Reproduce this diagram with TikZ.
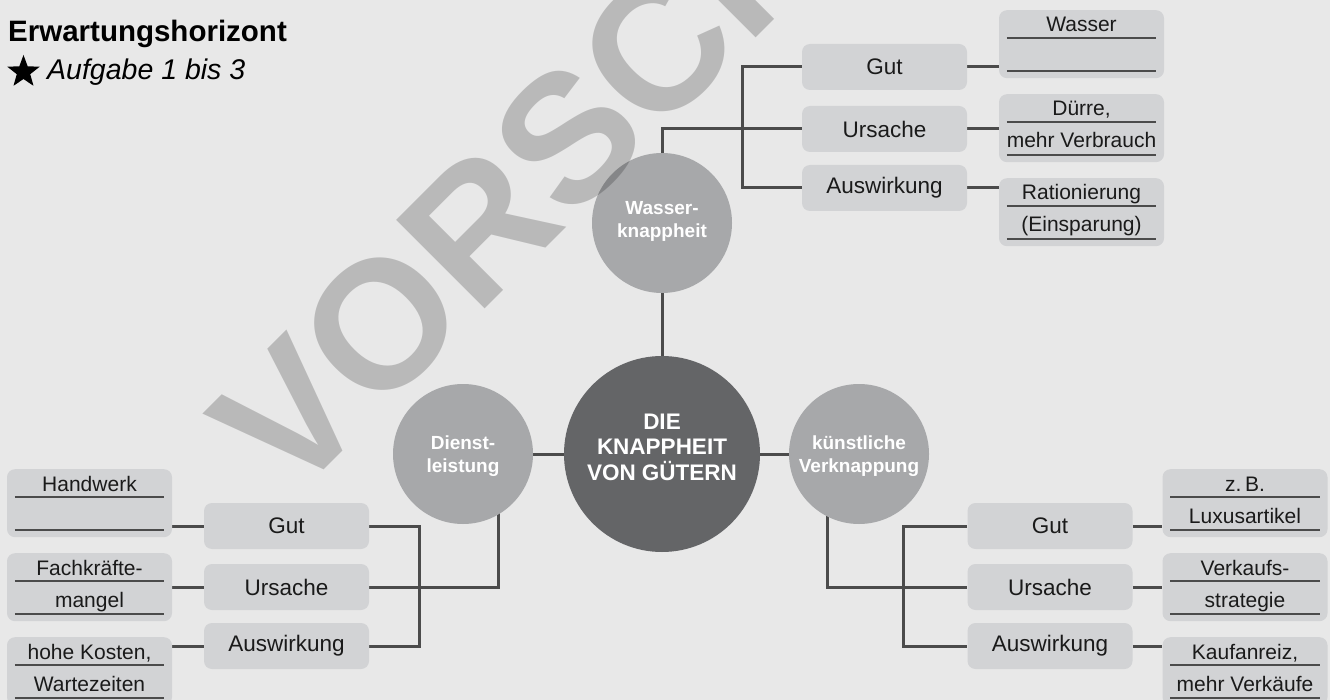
\documentclass[tikz,border=0pt]{standalone}
\usepackage{fontspec}
\setmainfont{Liberation Sans}
\usetikzlibrary{shapes.geometric,calc}
\pgfdeclarelayer{back}
\pgfsetlayers{back,main}
\definecolor{bgc}{HTML}{E8E8E8}
\definecolor{boxc}{HTML}{D2D3D5}
\definecolor{circc}{HTML}{A7A8AA}
\definecolor{darkc}{HTML}{646567}
\definecolor{linec}{HTML}{4B4B4B}
\definecolor{textc}{HTML}{1A1A1A}
\tikzset{
  conn/.style={line width=3pt, draw=linec},
  rulel/.style={line width=1.5pt, draw=linec},
  mbox/.style={fill=boxc, rounded corners=8pt, minimum width=165pt, minimum height=46pt, inner sep=0pt, text=textc, font=\fontsize{22.5}{26}\selectfont},
  abox/.style={fill=boxc, rounded corners=8pt, minimum width=165pt, minimum height=68pt, inner sep=0pt},
  atext/.style={inner sep=0pt, text=textc, font=\fontsize{21}{24}\selectfont},
  scirc/.style={circle, fill=circc, minimum size=140pt, inner sep=0pt},
  stext/.style={text=white, align=center, inner sep=0pt, font=\bfseries\fontsize{19}{23}\selectfont},
  ctext/.style={text=white, align=center, inner sep=0pt, font=\bfseries\fontsize{22.5}{25.5}\selectfont},
}
\newcommand\answerbox[5]{%
  \node[abox, anchor=north] (#1) at (#2,#3) {};
  \draw[rulel] ([xshift=8pt,yshift=-28pt]#1.north west) -- ([xshift=-8pt,yshift=-28pt]#1.north east);
  \draw[rulel] ([xshift=8pt,yshift=-61pt]#1.north west) -- ([xshift=-8pt,yshift=-61pt]#1.north east);
  \node[atext, anchor=base] (#1-a) at ([yshift=-22pt]#1.north) {#4};
  \node[atext, anchor=base] (#1-b) at ([yshift=-54pt]#1.north) {#5};
}
\begin{document}
\begin{tikzpicture}[x=1pt,y=-1pt]
\useasboundingbox (0,0) rectangle (1330,700);

% title
\node[anchor=base west, inner sep=0pt, font=\bfseries\fontsize{29.5}{34}\selectfont] (title) at (8,41.5) {Erwartungshorizont};
\node[star, star points=5, star point ratio=2.4, fill=black, minimum size=34pt, inner sep=0pt] (star) at (23.5,72) {};
\node[anchor=base west, inner sep=0pt, font=\itshape\fontsize{28.5}{34}\selectfont] (sub) at (47,79.5) {Aufgabe 1 bis 3};

% circles
\node[circle, fill=darkc, minimum size=196pt, inner sep=0pt] (C) at (662,454) {};
\node[ctext] (Ct) at (662,447) {DIE\\KNAPPHEIT\\VON GÜTERN};
\node[scirc] (W) at (662,223) {};
\node[stext] (Wt) at (662,221) {Wasser-\\knappheit};
\node[scirc] (D) at (463,454) {};
\node[stext] (Dt) at (463,456) {Dienst-\\leistung};
\node[scirc] (K) at (859,454) {};
\node[stext] (Kt) at (859,456) {künstliche\\Verknappung};

% top right branch
\node[mbox] (tg) at (884.5,67) {Gut};
\node[mbox] (tu) at (884.5,129) {Ursache};
\node[mbox] (ta) at (884.5,188) {Auswirkung};
\answerbox{tga}{1081.5}{10}{Wasser}{}
\answerbox{tua}{1081.5}{94}{Dürre,}{mehr Verbrauch}
\answerbox{taa}{1081.5}{178}{Rationierung}{(Einsparung)}

% bottom left branch
\node[mbox] (lg) at (286.5,526) {Gut};
\node[mbox] (lu) at (286.5,587) {Ursache};
\node[mbox] (la) at (286.5,646) {Auswirkung};
\answerbox{lga}{89.5}{469}{Handwerk}{}
\answerbox{lua}{89.5}{553}{Fachkräfte-}{mangel}
\answerbox{laa}{89.5}{637}{hohe Kosten,}{Wartezeiten}

% bottom right branch
\node[mbox] (rg) at (1050,526) {Gut};
\node[mbox] (ru) at (1050,587) {Ursache};
\node[mbox] (ra) at (1050,646) {Auswirkung};
\answerbox{rga}{1245}{469}{z.\,B.}{Luxusartikel}
\answerbox{rua}{1245}{553}{Verkaufs-}{strategie}
\answerbox{raa}{1245}{637}{Kaufanreiz,}{mehr Verkäufe}

% connectors
\begin{pgfonlayer}{back}
\fill[bgc] (0,0) rectangle (1330,700);
\draw[conn] (W.center) -- (C.center);
\draw[conn] (D.center) -- (K.center);
\draw[conn] (W.center) |- (tu.west);
\draw[conn] (tg.west) -- (742,67) -- (742,188) -- (ta.west);
\draw[conn] (tg.east) -- (tg.east -| tga.west);
\draw[conn] (tu.east) -- (tu.east -| tua.west);
\draw[conn] (ta.east) -- (ta.east -| taa.west);
\draw[conn] ($(D.center)+(35,0)$) |- (lu.east);
\draw[conn] (lg.east) -- (419,526) -- (419,646) -- (la.east);
\draw[conn] (lg.west) -- (lg.west -| lga.east);
\draw[conn] (lu.west) -- (lu.west -| lua.east);
\draw[conn] (la.west) -- (la.west -| laa.east);
\draw[conn] ($(K.center)+(-32,0)$) |- (ru.west);
\draw[conn] (rg.west) -- (903,526) -- (903,646) -- (ra.west);
\draw[conn] (rg.east) -- (rg.east -| rga.west);
\draw[conn] (ru.east) -- (ru.east -| rua.west);
\draw[conn] (ra.east) -- (ra.east -| raa.west);
\end{pgfonlayer}

% watermark
\begin{scope}
\clip (0,0) rectangle (1330,700);
\node[anchor=base west, rotate=45, inner sep=0pt, text=black, opacity=0.2, font=\bfseries\fontsize{182}{182}\selectfont] (wm) at (290,504) {VORSCHAU};
\end{scope}
\end{tikzpicture}
\end{document}
